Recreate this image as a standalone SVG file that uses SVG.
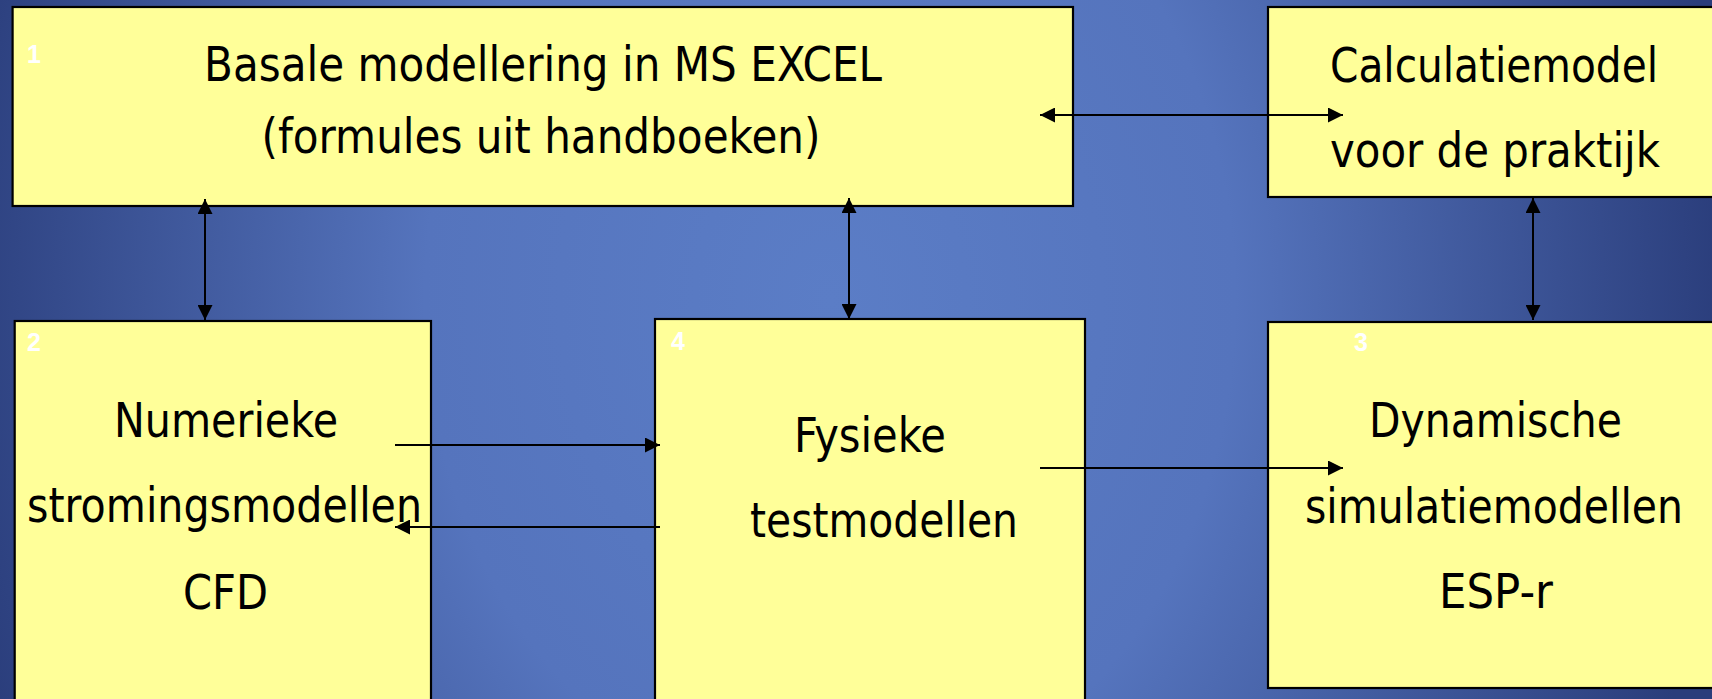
<svg xmlns="http://www.w3.org/2000/svg" width="1712" height="699" viewBox="0 0 1712 699">
<defs>
<radialGradient id="bg" gradientUnits="userSpaceOnUse" cx="830" cy="300" r="900" gradientTransform="translate(830 300) scale(1 1.25) translate(-830 -300)">
<stop offset="0" stop-color="#5b7dc6"/>
<stop offset="0.45" stop-color="#5574bd"/>
<stop offset="1" stop-color="#2a3d7b"/>
</radialGradient>
<marker id="ah" viewBox="0 0 15 15" refX="15" refY="7.5" markerWidth="15" markerHeight="15" markerUnits="userSpaceOnUse" orient="auto-start-reverse">
<path d="M0,0 L15,7.5 L0,15 z" fill="#000"/>
</marker>
<style>
.box{fill:#ffff99;stroke:#000;stroke-width:2.2}
.t{font-family:"DejaVu Sans","Liberation Sans",sans-serif;font-size:48px;fill:#000;text-anchor:middle}
.n{font-family:"Liberation Sans",Arial,sans-serif;font-size:25px;font-weight:bold;fill:#fff}
.c{stroke:#000;stroke-width:2;fill:none}
.d{marker-start:url(#ah);marker-end:url(#ah)}
.s{marker-end:url(#ah)}
</style>
</defs>
<rect width="1712" height="699" fill="url(#bg)"/>

<g id="node1">
<rect class="box" x="12.6" y="7" width="1060.4" height="199"/>
<text class="n" x="27" y="63">1</text>
<text class="t" x="543" y="81" textLength="678" lengthAdjust="spacingAndGlyphs">Basale modellering in MS EXCEL</text>
<text class="t" x="541" y="153" textLength="559" lengthAdjust="spacingAndGlyphs">(formules uit handboeken)</text>
</g>

<g id="node-calc">
<rect class="box" x="1268" y="7" width="446" height="190"/>
<text class="t" x="1494" y="82" textLength="328" lengthAdjust="spacingAndGlyphs">Calculatiemodel</text>
<text class="t" x="1495" y="167" textLength="330" lengthAdjust="spacingAndGlyphs">voor de praktijk</text>
</g>

<g id="node2">
<rect class="box" x="14.7" y="321" width="416.3" height="400"/>
<text class="n" x="27" y="351">2</text>
<text class="t" x="226" y="437" textLength="224" lengthAdjust="spacingAndGlyphs">Numerieke</text>
<text class="t" x="224.5" y="522" textLength="395" lengthAdjust="spacingAndGlyphs">stromingsmodellen</text>
<text class="t" x="225.5" y="609" textLength="85" lengthAdjust="spacingAndGlyphs">CFD</text>
</g>

<g id="node4">
<rect class="box" x="655" y="319" width="430" height="400"/>
<text class="n" x="671" y="350">4</text>
<text class="t" x="870" y="452" textLength="152" lengthAdjust="spacingAndGlyphs">Fysieke</text>
<text class="t" x="884" y="537" textLength="268" lengthAdjust="spacingAndGlyphs">testmodellen</text>
</g>

<g id="node3">
<rect class="box" x="1268" y="322" width="446" height="366"/>
<text class="n" x="1354" y="351">3</text>
<text class="t" x="1495.5" y="437" textLength="253" lengthAdjust="spacingAndGlyphs">Dynamische</text>
<text class="t" x="1494" y="523" textLength="378" lengthAdjust="spacingAndGlyphs">simulatiemodellen</text>
<text class="t" x="1496" y="608" textLength="114" lengthAdjust="spacingAndGlyphs">ESP-r</text>
</g>

<g id="connectors">
<line class="c d" x1="205" y1="199" x2="205" y2="320"/>
<line class="c d" x1="849" y1="198" x2="849" y2="319"/>
<line class="c d" x1="1040" y1="115" x2="1343" y2="115"/>
<line class="c d" x1="1533" y1="198" x2="1533" y2="320"/>
<line class="c s" x1="395" y1="445" x2="660" y2="445"/>
<line class="c s" x1="660" y1="527" x2="395" y2="527"/>
<line class="c s" x1="1040" y1="468" x2="1343" y2="468"/>
</g>
</svg>
